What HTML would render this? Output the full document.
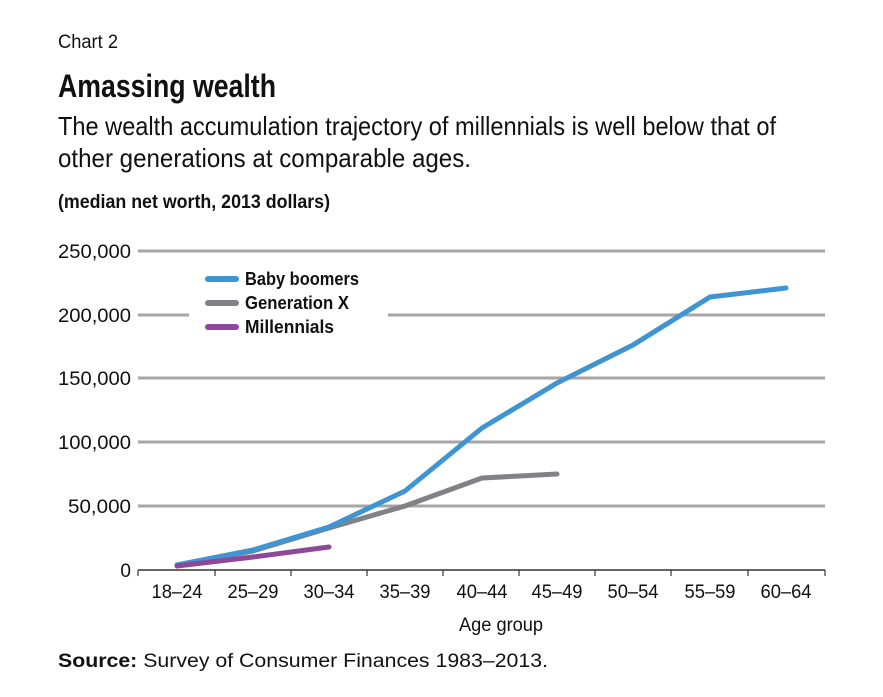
<!DOCTYPE html>
<html><head><style>
body{margin:0;background:#fff;}
svg{display:block;font-family:"Liberation Sans",sans-serif;}
</style></head><body>
<svg width="883" height="697" viewBox="0 0 883 697">
<text x="58" y="48" font-size="19" textLength="60" lengthAdjust="spacingAndGlyphs" fill="#111">Chart 2</text>
<text x="58" y="97" font-size="32" font-weight="bold" textLength="218" lengthAdjust="spacingAndGlyphs" fill="#111">Amassing wealth</text>
<text x="58" y="135" font-size="26" textLength="718" lengthAdjust="spacingAndGlyphs" fill="#111">The wealth accumulation trajectory of millennials is well below that of</text>
<text x="58" y="167" font-size="26" textLength="413" lengthAdjust="spacingAndGlyphs" fill="#111">other generations at comparable ages.</text>
<text x="58" y="208" font-size="19" font-weight="bold" textLength="272" lengthAdjust="spacingAndGlyphs" fill="#111">(median net worth, 2013 dollars)</text>
<g stroke="#a6a6a6" stroke-width="3">
<line x1="138" y1="251" x2="825" y2="251"/>
<line x1="138" y1="315" x2="189" y2="315"/><line x1="388" y1="315" x2="825" y2="315"/>
<line x1="138" y1="378" x2="825" y2="378"/>
<line x1="138" y1="442" x2="825" y2="442"/>
<line x1="138" y1="506" x2="825" y2="506"/>
</g>
<line x1="138" y1="570" x2="825" y2="570" stroke="#333" stroke-width="1.5"/>
<g stroke="#333" stroke-width="1.2">
<line x1="138" y1="570" x2="138" y2="576"/><line x1="215" y1="570" x2="215" y2="576"/><line x1="291" y1="570" x2="291" y2="576"/><line x1="367" y1="570" x2="367" y2="576"/><line x1="443" y1="570" x2="443" y2="576"/><line x1="519" y1="570" x2="519" y2="576"/><line x1="595" y1="570" x2="595" y2="576"/><line x1="671" y1="570" x2="671" y2="576"/><line x1="748" y1="570" x2="748" y2="576"/><line x1="825" y1="570" x2="825" y2="576"/>
</g>
<g font-size="19" fill="#111" text-anchor="end">
<text x="131" y="258" textLength="73" lengthAdjust="spacingAndGlyphs">250,000</text><text x="131" y="322" textLength="73" lengthAdjust="spacingAndGlyphs">200,000</text><text x="131" y="385" textLength="73" lengthAdjust="spacingAndGlyphs">150,000</text><text x="131" y="449" textLength="73" lengthAdjust="spacingAndGlyphs">100,000</text><text x="131" y="513" textLength="63" lengthAdjust="spacingAndGlyphs">50,000</text><text x="131" y="577">0</text>
</g>
<g font-size="19" fill="#111" text-anchor="middle">
<text x="177" y="598" textLength="51" lengthAdjust="spacingAndGlyphs">18–24</text><text x="253" y="598" textLength="51" lengthAdjust="spacingAndGlyphs">25–29</text><text x="329" y="598" textLength="51" lengthAdjust="spacingAndGlyphs">30–34</text><text x="405" y="598" textLength="51" lengthAdjust="spacingAndGlyphs">35–39</text><text x="482" y="598" textLength="51" lengthAdjust="spacingAndGlyphs">40–44</text><text x="557" y="598" textLength="51" lengthAdjust="spacingAndGlyphs">45–49</text><text x="633" y="598" textLength="51" lengthAdjust="spacingAndGlyphs">50–54</text><text x="710" y="598" textLength="51" lengthAdjust="spacingAndGlyphs">55–59</text><text x="786" y="598" textLength="51" lengthAdjust="spacingAndGlyphs">60–64</text>
<text x="501" y="631" textLength="84" lengthAdjust="spacingAndGlyphs">Age group</text>
</g>
<g fill="none" stroke-width="5" stroke-linejoin="round" stroke-linecap="round">
<polyline stroke="#818285" points="177,565 253,551 329,528 405,506 482,478 557,474"/>
<polyline stroke="#3e95d1" points="177,565 253,550 329,527 405,491 482,428 557,383 633,345 710,297 786,288"/>
<polyline stroke="#8e4799" points="177,566 253,557 329,547"/>
</g>
<g stroke-width="6" stroke-linecap="round">
<line x1="208" y1="279" x2="236" y2="279" stroke="#3e95d1"/>
<line x1="208" y1="303" x2="236" y2="303" stroke="#818285"/>
<line x1="208" y1="327" x2="236" y2="327" stroke="#8e4799"/>
</g>
<g font-size="18" font-weight="bold" fill="#111">
<text x="245" y="285" textLength="114" lengthAdjust="spacingAndGlyphs">Baby boomers</text>
<text x="245" y="309" textLength="104" lengthAdjust="spacingAndGlyphs">Generation X</text>
<text x="245" y="333" textLength="89" lengthAdjust="spacingAndGlyphs">Millennials</text>
</g>
<text x="58" y="667" font-size="19" fill="#111" textLength="490" lengthAdjust="spacingAndGlyphs"><tspan font-weight="bold">Source:</tspan> Survey of Consumer Finances 1983–2013.</text>
</svg>
</body></html>
